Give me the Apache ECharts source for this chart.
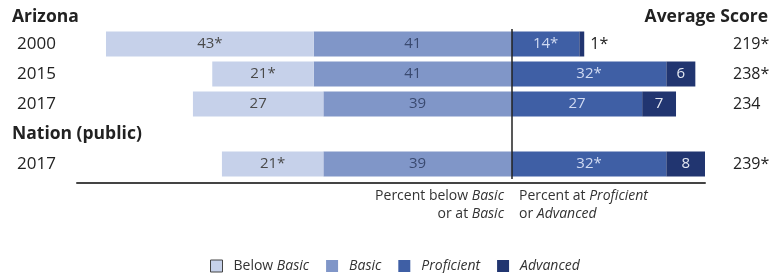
<!DOCTYPE html>
<html>
<head>
<meta charset="utf-8">
<script src="https://cdn.jsdelivr.net/npm/echarts@6/dist/echarts.min.js"></script>
<style>
  html, body { margin: 0; padding: 0; background: #fff; }
  #chart { width: 780px; height: 273px; }
</style>
</head>
<body>
<div id="chart"></div>
<script>
//----------------------Data----------------------
let row_labels = ["2000", "2015", "2017", "", "2017"];
let avg_scores = ["219*", "238*", "234", "", "239*"];
let below_basic = [43, 21, 27, null, 21];
let basic = [41, 41, 39, null, 39];
let proficient = [14, 32, 27, null, 32];
let advanced = [1, 6, 7, null, 8];
let below_basic_txt = ["43*", "21*", "27", "", "21*"];
let basic_txt = ["41", "41", "39", "", "39"];
let proficient_txt = ["14*", "32*", "27", "", "32*"];
let advanced_txt = ["1*", "6", "7", "", "8"];

let font = "'Open Sans', 'Noto Sans', sans-serif";
let col_below = "#c6d1ea";
let col_basic = "#8096c8";
let col_prof = "#3f5fa5";
let col_adv = "#213570";

let chart = echarts.init(document.getElementById("chart"));

// build one stacked series; negative side is below/at Basic
function make_series(name, vals, txts, color, labelColor, sign) {
    return {
        name: name,
        type: "bar",
        stack: "all",
        barWidth: 25,
        itemStyle: { color: color },
        label: {
            show: true,
            position: "inside",
            color: labelColor,
            fontFamily: font,
            fontSize: 15,
            formatter: function (p) { return txts[p.dataIndex]; }
        },
        data: vals.map(function (v, i) {
            if (v === null) return null;
            let d = { value: sign * v };
            // tiny segment: label goes outside
            if (v < 3) {
                d.label = { position: "right", color: "#222", distance: 6, fontSize: 16 };
            }
            return d;
        })
    };
}

let series_list = [
    make_series("Basic", basic, basic_txt, col_basic, "#3a4a70", -1),
    make_series("Below Basic", below_basic, below_basic_txt, col_below, "#4a4a4a", -1),
    make_series("Proficient", proficient, proficient_txt, col_prof, "#d0daf2", 1),
    make_series("Advanced", advanced, advanced_txt, col_adv, "#e4e8f2", 1)
];
series_list[2].markLine = {
    silent: true,
    symbol: "none",
    label: { show: false },
    lineStyle: { color: "#222", width: 1.5, type: "solid" },
    data: [{ xAxis: 0 }]
};

let italic = { fontStyle: "italic", fontFamily: font, fontSize: 14, fill: "#333" };

let option = {
    backgroundColor: "#fff",
    animation: false,
    grid: { left: 77, width: 628, top: 29, height: 150 },
    xAxis: {
        type: "value",
        min: -90,
        max: 40,
        offset: 4,
        axisLine: { show: true, lineStyle: { color: "#444", width: 2 } },
        axisTick: { show: false },
        axisLabel: { show: false },
        splitLine: { show: false }
    },
    yAxis: [
        {
            type: "category",
            inverse: true,
            data: row_labels,
            axisLine: { show: false },
            axisTick: { show: false },
            axisLabel: {
                align: "left",
                margin: 60,
                color: "#222",
                fontFamily: font,
                fontSize: 17
            }
        },
        {
            type: "category",
            inverse: true,
            position: "right",
            data: avg_scores,
            axisLine: { show: false },
            axisTick: { show: false },
            axisLabel: {
                align: "left",
                margin: 28,
                color: "#222",
                fontFamily: font,
                fontSize: 16
            }
        }
    ],
    legend: {
        data: [
            { name: "Below Basic", itemStyle: { borderColor: "#444", borderWidth: 1 } },
            "Basic", "Proficient", "Advanced"
        ],
        left: 205,
        top: 254,
        itemWidth: 12,
        itemHeight: 12,
        itemGap: 17,
        icon: "rect",
        formatter: function (name) {
            if (name === "Below Basic") return "Below {i|Basic}";
            return "{i|" + name + "}";
        },
        textStyle: {
            color: "#333",
            fontFamily: font,
            fontSize: 14,
            padding: [0, 0, 0, 6],
            rich: { i: { fontStyle: "italic", fontFamily: font, fontSize: 14, color: "#333" } }
        }
    },
    graphic: [
        { type: "text", left: 12, top: 8, style: { text: "Arizona", fontFamily: font, fontWeight: "bold", fontSize: 17.5, fill: "#222" } },
        { type: "text", left: 12, top: 125, style: { text: "Nation (public)", fontFamily: font, fontWeight: "bold", fontSize: 17.5, fill: "#222" } },
        { type: "text", right: 12, top: 8, style: { text: "Average Score", fontFamily: font, fontWeight: "bold", fontSize: 17.5, fill: "#222" } },
        { type: "text", right: 276, top: 189, style: { text: "Percent below {i|Basic}", fontFamily: font, fontSize: 14, fill: "#333", rich: { i: italic } } },
        { type: "text", right: 276, top: 207, style: { text: "or at {i|Basic}", fontFamily: font, fontSize: 14, fill: "#333", rich: { i: italic } } },
        { type: "text", left: 519, top: 189, style: { text: "Percent at {i|Proficient}", fontFamily: font, fontSize: 14, fill: "#333", rich: { i: italic } } },
        { type: "text", left: 519, top: 207, style: { text: "or {i|Advanced}", fontFamily: font, fontSize: 14, fill: "#333", rich: { i: italic } } }
    ],
    series: series_list
};
chart.setOption(option);
</script>
</body>
</html>
